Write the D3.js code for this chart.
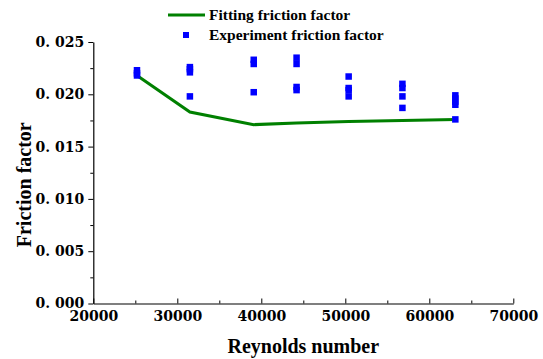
<!DOCTYPE html>
<html>
<head>
<meta charset="utf-8">
<script src="https://cdn.jsdelivr.net/npm/d3@7"></script>
<style>
  body { margin: 0; background: #fff; }
  svg { display: block; }
  .tick text { font-family: "DejaVu Serif", serif; font-weight: bold; }
  .serif { font-family: 'Liberation Serif', 'Times New Roman', Times, serif; font-weight: bold; }
</style>
</head>
<body>
<div id="chart"></div>
<script>
// Reynolds numbers of the test runs
const reynolds = [25200, 31500, 39100, 44200, 50400, 56800, 63100];
// fitted friction factor at each Reynolds number
const fitted = [0.0218, 0.0183, 0.0171, 0.01725, 0.0174, 0.0175, 0.0176];
// measured friction factors, one list per Reynolds number
const measured = [
  [0.0223, 0.0220, 0.0218],
  [0.0226, 0.0224, 0.0221, 0.0198],
  [0.0233, 0.0229, 0.0202],
  [0.0235, 0.0229, 0.0207, 0.0204],
  [0.0217, 0.0206, 0.0204, 0.0198],
  [0.0210, 0.0206, 0.0198, 0.0187],
  [0.0199, 0.0196, 0.0193, 0.0190, 0.0176]
];
const xTicks = [20000, 30000, 40000, 50000, 60000, 70000];
const yTicks = [0, 0.005, 0.01, 0.015, 0.02, 0.025];
const legendLabels = ['Fitting friction factor', 'Experiment friction factor'];

const width = 543, height = 359;
const margin = { left: 93.3, right: 29.7, top: 42, bottom: 55.5 };

const svg = d3.select('#chart').append('svg')
  .attr('width', width)
  .attr('height', height);

const x = d3.scaleLinear().domain([20000, 70000]).range([margin.left, width - margin.right]);
const y = d3.scaleLinear().domain([0, 0.025]).range([height - margin.bottom, margin.top]);

// minor ticks first so the major ones draw on top
svg.append('g')
  .attr('transform', `translate(0, ${y(0)})`)
  .call(d3.axisBottom(x).tickValues(d3.range(25000, 70000, 10000)).tickSize(-3).tickFormat(''))
  .call(g => g.select('.domain').remove());
svg.append('g')
  .attr('transform', `translate(${x(20000)}, 0)`)
  .call(d3.axisLeft(y).tickValues(d3.range(0.0025, 0.025, 0.005)).tickSize(3).tickFormat(''))
  .call(g => g.select('.domain').remove());

const xAxis = svg.append('g')
  .attr('transform', `translate(0, ${y(0)})`)
  .call(d3.axisBottom(x).tickValues(xTicks).tickSize(-5).tickSizeOuter(0).tickFormat(d3.format('d')));
xAxis.selectAll('text')
  .attr('y', 8)
  .attr('dy', '0.71em')
  .style('font-size', '14px');

const yAxis = svg.append('g')
  .attr('transform', `translate(${x(20000)}, 0)`)
  .call(d3.axisLeft(y).tickValues(yTicks).tickSize(5).tickSizeOuter(0)
    .tickFormat(d => d3.format('.3f')(d).replace('.', '. ')));
yAxis.selectAll('text')
  .attr('x', -9)
  .style('font-size', '14px');

svg.selectAll('.domain').attr('stroke-width', 1.2);

// fitted curve
const line = d3.line()
  .x((d, i) => x(reynolds[i]))
  .y(d => y(d));

svg.append('path')
  .datum(fitted)
  .attr('fill', 'none')
  .attr('stroke', '#008000')
  .attr('stroke-width', 3)
  .attr('d', line);

// measured points
const points = [];
measured.forEach((vals, i) => vals.forEach(v => points.push({ re: reynolds[i], f: v })));

const sq = 6.5;
svg.selectAll('rect.pt')
  .data(points)
  .enter().append('rect')
  .attr('class', 'pt')
  .attr('x', d => x(d.re) - sq / 2)
  .attr('y', d => y(d.f) - sq / 2)
  .attr('width', sq)
  .attr('height', sq)
  .attr('fill', '#0000ff');

// axis titles
svg.append('text')
  .attr('class', 'serif')
  .attr('x', (x(20000) + x(70000)) / 2)
  .attr('y', 353)
  .attr('text-anchor', 'middle')
  .style('font-size', '20px')
  .text('Reynolds number');

svg.append('text')
  .attr('class', 'serif')
  .attr('transform', `translate(31, ${(y(0) + y(0.025)) / 2 + 12}) rotate(-90)`)
  .attr('text-anchor', 'middle')
  .style('font-size', '20px')
  .text('Friction factor');

// legend
const legend = svg.append('g');
legend.append('line')
  .attr('x1', 168).attr('x2', 205)
  .attr('y1', 15).attr('y2', 15)
  .attr('stroke', '#008000')
  .attr('stroke-width', 3);
legend.append('rect')
  .attr('x', 183).attr('y', 32)
  .attr('width', 6).attr('height', 6)
  .attr('fill', '#0000ff');
legend.selectAll('text.lg')
  .data(legendLabels)
  .enter().append('text')
  .attr('class', 'serif')
  .attr('x', 209)
  .attr('y', (d, i) => 20 + i * 20)
  .style('font-size', '15.5px')
  .text(d => d);
</script>
</body>
</html>
